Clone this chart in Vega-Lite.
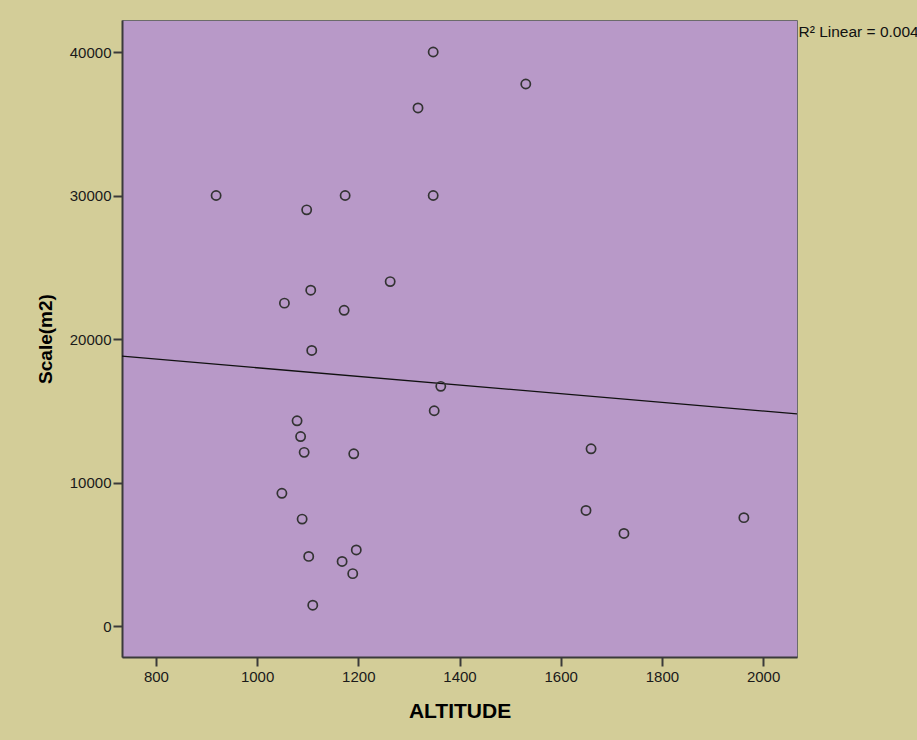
{
  "$schema": "https://vega.github.io/schema/vega-lite/v6.json",
  "width": 675,
  "height": 637,
  "autosize": {"type": "none"},
  "padding": {"left": 122, "top": 20, "right": 120, "bottom": 83},
  "background": "#d3cd98",
  "config": {
    "view": {"fill": "#b899c8", "stroke": "#6b6b6b", "strokeWidth": 1},
    "font": "Liberation Sans"
  },
  "datasets": {
    "points": [
      {"ALTITUDE": 919, "Scale": 30000},
      {"ALTITUDE": 1098, "Scale": 29000},
      {"ALTITUDE": 1174, "Scale": 30000},
      {"ALTITUDE": 1348, "Scale": 30000},
      {"ALTITUDE": 1348, "Scale": 40000},
      {"ALTITUDE": 1318, "Scale": 36100},
      {"ALTITUDE": 1531, "Scale": 37770},
      {"ALTITUDE": 1263, "Scale": 24000},
      {"ALTITUDE": 1106, "Scale": 23400},
      {"ALTITUDE": 1054, "Scale": 22500},
      {"ALTITUDE": 1172, "Scale": 22000},
      {"ALTITUDE": 1108, "Scale": 19200},
      {"ALTITUDE": 1363, "Scale": 16700},
      {"ALTITUDE": 1350, "Scale": 15000},
      {"ALTITUDE": 1079, "Scale": 14300},
      {"ALTITUDE": 1086, "Scale": 13200},
      {"ALTITUDE": 1093, "Scale": 12100},
      {"ALTITUDE": 1191, "Scale": 12000},
      {"ALTITUDE": 1660, "Scale": 12350},
      {"ALTITUDE": 1049, "Scale": 9250},
      {"ALTITUDE": 1089, "Scale": 7450},
      {"ALTITUDE": 1650, "Scale": 8050},
      {"ALTITUDE": 1725, "Scale": 6450},
      {"ALTITUDE": 1962, "Scale": 7550},
      {"ALTITUDE": 1102, "Scale": 4850},
      {"ALTITUDE": 1196, "Scale": 5300},
      {"ALTITUDE": 1168, "Scale": 4500},
      {"ALTITUDE": 1189, "Scale": 3650},
      {"ALTITUDE": 1110, "Scale": 1450}
    ],
    "fit": [
      {"ALTITUDE": 733, "Scale": 18800},
      {"ALTITUDE": 2067, "Scale": 14780}
    ],
    "note": [
      {"label": "R² Linear = 0.004", "ALTITUDE": 2067, "Scale": 41070}
    ]
  },
  "layer": [
    {
      "data": {"name": "fit"},
      "mark": {"type": "line", "color": "#111111", "strokeWidth": 1.3},
      "encoding": {
        "x": {
          "field": "ALTITUDE",
          "type": "quantitative",
          "scale": {"domain": [733, 2067], "nice": false, "zero": false},
          "axis": {
            "title": "ALTITUDE",
            "titleFont": "Liberation Sans",
            "titleFontWeight": "bold",
            "titleColor": "#000000",
            "titleFontSize": 21,
            "titlePadding": 16,
            "values": [800, 1000, 1200, 1400, 1600, 1800, 2000],
            "format": "d",
            "grid": false,
            "domainColor": "#3a3a3a",
            "domainWidth": 2,
            "tickColor": "#3a3a3a",
            "tickWidth": 2,
            "tickSize": 9,
            "labelFont": "Liberation Sans",
            "labelFontSize": 15,
            "labelColor": "#1a1a1a",
            "labelPadding": 3
          }
        },
        "y": {
          "field": "Scale",
          "type": "quantitative",
          "scale": {"domain": [-2160, 42230], "nice": false, "zero": false},
          "axis": {
            "title": "Scale(m2)",
            "titleFont": "Liberation Sans",
            "titleFontWeight": "bold",
            "titleColor": "#000000",
            "titleFontSize": 19,
            "titlePadding": 14,
            "values": [0, 10000, 20000, 30000, 40000],
            "format": "d",
            "grid": false,
            "domainColor": "#3a3a3a",
            "domainWidth": 2,
            "tickColor": "#3a3a3a",
            "tickWidth": 2,
            "tickSize": 9,
            "labelFont": "Liberation Sans",
            "labelFontSize": 15,
            "labelColor": "#1a1a1a",
            "labelPadding": 2
          }
        }
      }
    },
    {
      "data": {"name": "points"},
      "mark": {"type": "point", "shape": "circle", "filled": false, "stroke": "#333333", "strokeWidth": 1.7, "size": 85, "opacity": 1},
      "encoding": {
        "x": {"field": "ALTITUDE", "type": "quantitative"},
        "y": {"field": "Scale", "type": "quantitative"}
      }
    },
    {
      "data": {"name": "note"},
      "mark": {"type": "text", "align": "left", "baseline": "alphabetic", "dx": 1.5, "fontSize": 15.5, "color": "#111111", "font": "Liberation Sans"},
      "encoding": {
        "x": {"field": "ALTITUDE", "type": "quantitative"},
        "y": {"field": "Scale", "type": "quantitative"},
        "text": {"field": "label"}
      }
    }
  ]
}
